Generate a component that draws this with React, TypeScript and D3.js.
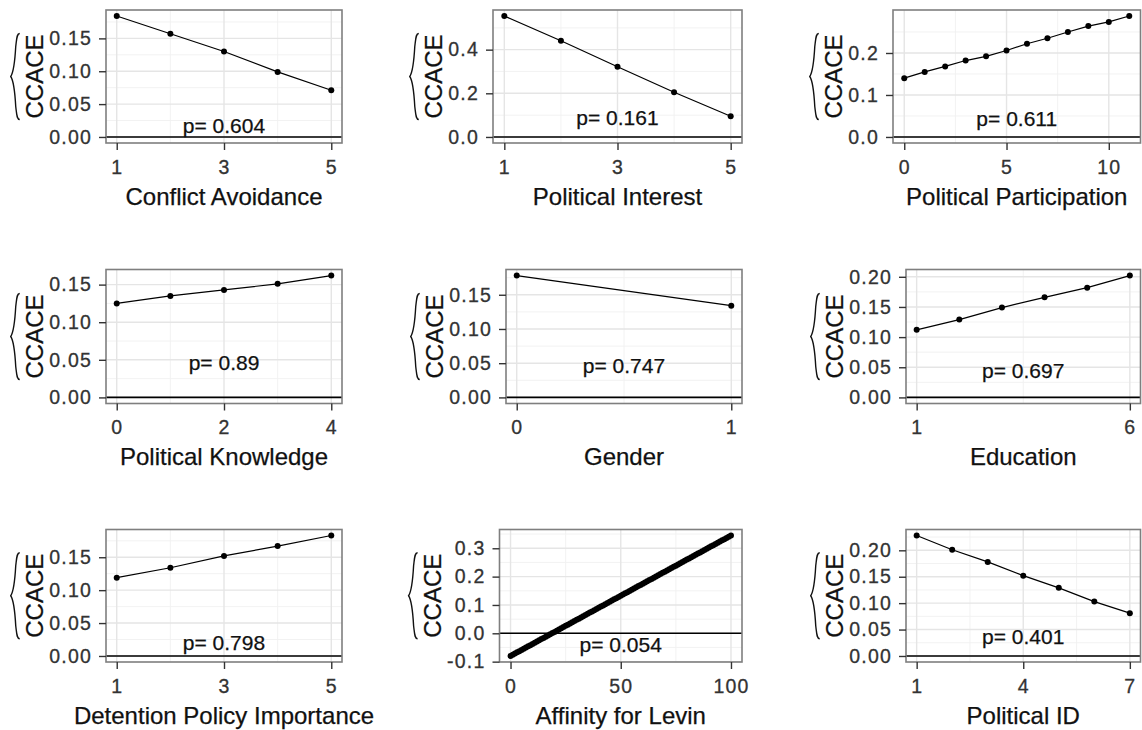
import React, { useEffect, useRef } from 'react';
import * as d3 from 'd3';

// CCACE estimates, one pair of arrays per moderator
const conflictX = [1, 2, 3, 4, 5];
const conflictY = [0.184, 0.157, 0.130, 0.099, 0.071];

const interestX = [1, 2, 3, 4, 5];
const interestY = [0.554, 0.441, 0.322, 0.205, 0.095];

const participationX = [0, 1, 2, 3, 4, 5, 6, 7, 8, 9, 10, 11];
const participationY = [0.140, 0.155, 0.168, 0.182, 0.192, 0.206, 0.222, 0.235, 0.250, 0.264, 0.274, 0.288];

const knowledgeX = [0, 1, 2, 3, 4];
const knowledgeY = [0.125, 0.135, 0.143, 0.151, 0.162];

const genderX = [0, 1];
const genderY = [0.178, 0.134];

const educationX = [1, 2, 3, 4, 5, 6];
const educationY = [0.112, 0.129, 0.149, 0.166, 0.182, 0.202];

const detentionX = [1, 2, 3, 4, 5];
const detentionY = [0.119, 0.134, 0.152, 0.167, 0.183];

const levinY = [
  -0.08, -0.07575, -0.0715, -0.06725, -0.063, -0.05875, -0.0545, -0.05025, -0.046, -0.04175,
  -0.0375, -0.03325, -0.029, -0.02475, -0.0205, -0.01625, -0.012, -0.00775, -0.0035, 0.00075,
  0.005, 0.00925, 0.0135, 0.01775, 0.022, 0.02625, 0.0305, 0.03475, 0.039, 0.04325,
  0.0475, 0.05175, 0.056, 0.06025, 0.0645, 0.06875, 0.073, 0.07725, 0.0815, 0.08575,
  0.09, 0.09425, 0.0985, 0.10275, 0.107, 0.11125, 0.1155, 0.11975, 0.124, 0.12825,
  0.1325, 0.13675, 0.141, 0.14525, 0.1495, 0.15375, 0.158, 0.16225, 0.1665, 0.17075,
  0.175, 0.17925, 0.1835, 0.18775, 0.192, 0.19625, 0.2005, 0.20475, 0.209, 0.21325,
  0.2175, 0.22175, 0.226, 0.23025, 0.2345, 0.23875, 0.243, 0.24725, 0.2515, 0.25575,
  0.26, 0.26425, 0.2685, 0.27275, 0.277, 0.28125, 0.2855, 0.28975, 0.294, 0.29825,
  0.3025, 0.30675, 0.311, 0.31525, 0.3195, 0.32375, 0.328, 0.33225, 0.3365, 0.34075,
  0.345,
];
const levinX = levinY.map((_, i) => i);

const politicalIdX = [1, 2, 3, 4, 5, 6, 7];
const politicalIdY = [0.228, 0.201, 0.178, 0.152, 0.129, 0.103, 0.081];

const titles = [
  'Conflict Avoidance', 'Political Interest', 'Political Participation',
  'Political Knowledge', 'Gender', 'Education',
  'Detention Policy Importance', 'Affinity for Levin', 'Political ID',
];
const pValues = ['0.604', '0.161', '0.611', '0.89', '0.747', '0.697', '0.798', '0.054', '0.401'];

const xTickValues = [[1, 3, 5], [1, 3, 5], [0, 5, 10], [0, 2, 4], [0, 1], [1, 6], [1, 3, 5], [0, 50, 100], [1, 4, 7]];
const yTickValues = [
  [0, 0.05, 0.1, 0.15], [0, 0.2, 0.4], [0, 0.1, 0.2],
  [0, 0.05, 0.1, 0.15], [0, 0.05, 0.1, 0.15], [0, 0.05, 0.1, 0.15, 0.2],
  [0, 0.05, 0.1, 0.15], [-0.1, 0, 0.1, 0.2, 0.3], [0, 0.05, 0.1, 0.15, 0.2],
];
const yDigits = [2, 1, 1, 2, 2, 2, 2, 1, 2];

const series = [
  [conflictX, conflictY], [interestX, interestY], [participationX, participationY],
  [knowledgeX, knowledgeY], [genderX, genderY], [educationX, educationY],
  [detentionX, detentionY], [levinX, levinY], [politicalIdX, politicalIdY],
];

// panel boxes and where the p label sits (in data units)
const boxes = [
  { left: 106, right: 342, top: 10, bottom: 143, labelY: 0.018 },
  { left: 493, right: 742, top: 10, bottom: 143, labelY: 0.09 },
  { left: 893, right: 1140.5, top: 10, bottom: 143, labelY: 0.043 },
  { left: 106, right: 342, top: 269.5, bottom: 403.5, labelY: 0.046 },
  { left: 506, right: 742, top: 269.5, bottom: 403.5, labelY: 0.047 },
  { left: 906, right: 1140.5, top: 269.5, bottom: 403.5, labelY: 0.045 },
  { left: 106, right: 342, top: 529.5, bottom: 662, labelY: 0.02 },
  { left: 499.5, right: 742, top: 529.5, bottom: 662, labelY: -0.038 },
  { left: 906, right: 1140.5, top: 529.5, bottom: 662, labelY: 0.037 },
];

const FONT = "'Liberation Sans', Arial, sans-serif";

function minorBreaks(ticks: number[], domain: number[]) {
  const step = ticks[1] - ticks[0];
  const out: number[] = [];
  ticks.forEach(t => out.push(t - step / 2));
  out.push(ticks[ticks.length - 1] + step / 2);
  return out.filter(v => v > domain[0] && v < domain[1]);
}

export default function App() {
  const ref = useRef<SVGSVGElement>(null);

  useEffect(() => {
    const svg = d3.select(ref.current);
    svg.selectAll('*').remove();

    series.forEach(([xs, ys], i) => {
      const b = boxes[i];
      const data = xs.map((v, k) => ({ x: v, y: ys[k] }));

      const xMin = d3.min(xs) as number;
      const xMax = d3.max(xs) as number;
      const xPad = (xMax - xMin) * 0.05;
      const x = d3.scaleLinear().domain([xMin - xPad, xMax + xPad]).range([b.left, b.right]);

      const yMin = Math.min(0, d3.min(ys) as number);
      const yMax = Math.max(0, d3.max(ys) as number);
      const yPad = (yMax - yMin) * 0.05;
      const y = d3.scaleLinear().domain([yMin - yPad, yMax + yPad]).range([b.bottom, b.top]);

      const g = svg.append('g');

      g.append('rect')
        .attr('x', b.left).attr('y', b.top)
        .attr('width', b.right - b.left).attr('height', b.bottom - b.top)
        .attr('fill', '#fff');

      // minor grid
      minorBreaks(xTickValues[i], x.domain()).forEach(v => {
        g.append('line').attr('x1', x(v)).attr('x2', x(v)).attr('y1', b.top).attr('y2', b.bottom)
          .attr('stroke', '#f0f0f0').attr('stroke-width', 0.9);
      });
      minorBreaks(yTickValues[i], y.domain()).forEach(v => {
        g.append('line').attr('x1', b.left).attr('x2', b.right).attr('y1', y(v)).attr('y2', y(v))
          .attr('stroke', '#f0f0f0').attr('stroke-width', 0.9);
      });
      // major grid
      xTickValues[i].forEach(v => {
        g.append('line').attr('x1', x(v)).attr('x2', x(v)).attr('y1', b.top).attr('y2', b.bottom)
          .attr('stroke', '#e5e5e5').attr('stroke-width', 1.4);
      });
      yTickValues[i].forEach(v => {
        g.append('line').attr('x1', b.left).attr('x2', b.right).attr('y1', y(v)).attr('y2', y(v))
          .attr('stroke', '#e5e5e5').attr('stroke-width', 1.4);
      });

      // zero line
      g.append('line')
        .attr('x1', b.left).attr('x2', b.right).attr('y1', y(0)).attr('y2', y(0))
        .attr('stroke', '#000').attr('stroke-width', 1.6);

      const line = d3.line<{ x: number; y: number }>().x(d => x(d.x)).y(d => y(d.y));
      g.append('path').datum(data).attr('d', line)
        .attr('fill', 'none').attr('stroke', '#000').attr('stroke-width', 1.2);

      g.selectAll('circle.pt').data(data).enter().append('circle')
        .attr('cx', d => x(d.x)).attr('cy', d => y(d.y)).attr('r', 3).attr('fill', '#000');

      // p-value annotation
      const xd = x.domain();
      g.append('text')
        .attr('x', x((xd[0] + xd[1]) / 2)).attr('y', y(b.labelY))
        .attr('text-anchor', 'middle').attr('dominant-baseline', 'central')
        .attr('font-family', FONT).attr('font-size', 21).attr('fill', '#111')
        .attr('stroke', '#111').attr('stroke-width', 0.25)
        .text('p= ' + pValues[i]);

      // panel border
      g.append('rect')
        .attr('x', b.left).attr('y', b.top)
        .attr('width', b.right - b.left).attr('height', b.bottom - b.top)
        .attr('fill', 'none').attr('stroke', '#7f7f7f').attr('stroke-width', 1.6);

      // axes
      const xAxis = g.append('g').attr('transform', `translate(0,${b.bottom})`)
        .call(d3.axisBottom(x).tickValues(xTickValues[i]).tickSize(7).tickPadding(10).tickFormat(d => String(d)));
      const yAxis = g.append('g').attr('transform', `translate(${b.left},0)`)
        .call(d3.axisLeft(y).tickValues(yTickValues[i]).tickSize(7).tickPadding(7)
          .tickFormat(d => (d as number).toFixed(yDigits[i])));
      [xAxis, yAxis].forEach(a => {
        a.select('.domain').remove();
        a.selectAll('line').attr('stroke', '#333').attr('stroke-width', 1.4);
        a.selectAll('text').attr('font-family', FONT).attr('font-size', 19.5)
          .attr('letter-spacing', 1.2).attr('fill', '#333')
          .attr('stroke', '#333').attr('stroke-width', 0.3);
      });

      // x title
      g.append('text')
        .attr('x', (b.left + b.right) / 2).attr('y', b.bottom + 61.5)
        .attr('text-anchor', 'middle').attr('font-family', FONT).attr('font-size', 24).attr('fill', '#111')
        .attr('stroke', '#111').attr('stroke-width', 0.25)
        .text(titles[i]);

      // y title with a wide hat, rotated
      const ab = (yAxis.node() as SVGGElement).getBBox();
      const bx = b.left + ab.x - 6.5;
      const cy = (b.top + b.bottom) / 2;
      g.append('text')
        .attr('transform', `translate(${bx},${cy}) rotate(-90)`)
        .attr('text-anchor', 'middle').attr('font-family', FONT).attr('font-size', 24).attr('fill', '#111')
        .attr('stroke', '#111').attr('stroke-width', 0.25)
        .text('CCACE');
      g.append('path')
        .attr('d', `M${bx - 23},${cy - 43} C${bx - 26},${cy - 43} ${bx - 26},${cy - 38} ${bx - 27},${cy - 30}`
          + ` C${bx - 28},${cy - 12} ${bx - 30},${cy - 3} ${bx - 32},${cy}`
          + ` C${bx - 30},${cy + 3} ${bx - 28},${cy + 12} ${bx - 27},${cy + 30}`
          + ` C${bx - 26},${cy + 38} ${bx - 26},${cy + 43} ${bx - 23},${cy + 43}`)
        .attr('fill', 'none').attr('stroke', '#111').attr('stroke-width', 1.4);
    });
  }, []);

  return (
    <svg ref={ref} width={1142} height={730}
      style={{ position: 'absolute', left: 0, top: 0, background: '#fff' }} />
  );
}
